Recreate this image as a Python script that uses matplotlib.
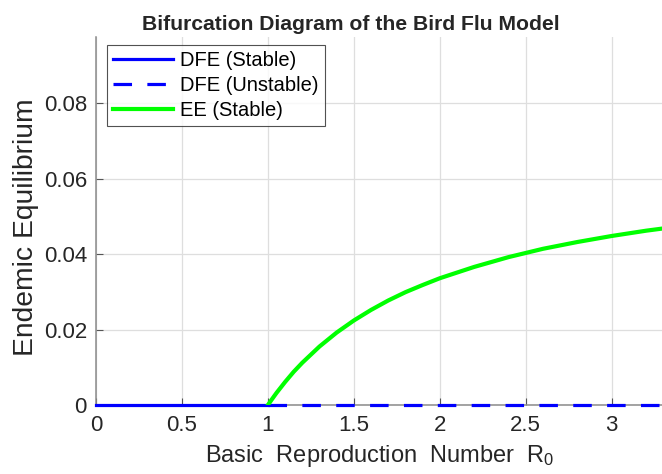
import numpy as np
import matplotlib
matplotlib.use("Agg")
import matplotlib.pyplot as plt

plt.rcParams['font.family'] = ['Liberation Sans', 'DejaVu Sans']
plt.rcParams['mathtext.fontset'] = 'custom'
plt.rcParams['mathtext.rm'] = 'Liberation Sans'
plt.rcParams['mathtext.it'] = 'Liberation Sans:italic'

# values
r0_dfe_stable = [0.0, 1.0]
dfe_stable = [0.0, 0.0]
r0_dfe_unstable = [1.0, 3.3]
dfe_unstable = [0.0, 0.0]
r0_ee = [1.0, 1.02, 1.05, 1.1, 1.15, 1.2, 1.3, 1.4, 1.5, 1.6, 1.7, 1.8, 1.9, 2.0,
         2.2, 2.4, 2.6, 2.8, 3.0, 3.2, 3.3]
ee = [0.0, 0.0013, 0.0032, 0.0061, 0.0088, 0.0112, 0.0155, 0.0192, 0.0224,
      0.0252, 0.0277, 0.0299, 0.0318, 0.0336, 0.0366, 0.0392, 0.0414, 0.0432,
      0.0448, 0.0462, 0.0468]

fig = plt.figure(figsize=(6.62, 4.74), dpi=100)
ax = fig.add_axes([0.145, 0.1456, 0.857, 0.776])

ax.plot(r0_dfe_stable, dfe_stable, color='#0000ff', lw=2.3, label='DFE (Stable)',
        zorder=3, clip_on=False)
ax.plot(r0_dfe_unstable, dfe_unstable, color='#0000ff', lw=2.3, ls=(0, (5.8, 4.8)),
        label='DFE (Unstable)', zorder=3, clip_on=False)
ax.plot(r0_ee, ee, color='#00ff00', lw=3.0, label='EE (Stable)', zorder=4)

ax.set_xlim(0, 3.3)
ax.set_ylim(0, 0.0975)
ax.set_xticks([0, 0.5, 1, 1.5, 2, 2.5, 3])
ax.set_xticklabels(['0', '0.5', '1', '1.5', '2', '2.5', '3'])
ax.set_yticks([0, 0.02, 0.04, 0.06, 0.08])
ax.set_yticklabels(['0', '0.02', '0.04', '0.06', '0.08'])
ax.grid(True, color='#dedede', lw=0.9)
ax.set_axisbelow(True)
for s in ['top', 'right']:
    ax.spines[s].set_visible(False)
for s in ['left', 'bottom']:
    ax.spines[s].set_color('#8a8a8a')
    ax.spines[s].set_linewidth(1.1)
ax.tick_params(direction='in', colors='#555555', labelcolor='#262626',
               labelsize=16, length=5)
ax.tick_params(axis='x', pad=7)
ax.tick_params(axis='y', pad=6.5)

ax.set_title('Bifurcation Diagram of the Bird Flu Model', fontsize=15.2,
             fontweight='bold', color='#262626', pad=5, x=0.449)
ax.set_xlabel('Basic  Reproduction  Number  R$_0$', fontsize=17,
              color='#262626', labelpad=5)
ax.set_ylabel('Endemic Equilibrium', fontsize=20.3, color='#262626')
ax.yaxis.set_label_coords(-0.1, 0.483)

leg = ax.legend(loc='upper left', fontsize=14.5, frameon=True, fancybox=False,
                edgecolor='#262626', handlelength=3.0, borderpad=0.3,
                labelspacing=0.3, handletextpad=0.35, borderaxespad=0,
                bbox_to_anchor=(0.019, 0.978))
leg.get_frame().set_linewidth(0.8)

fig.savefig('out.png', dpi=100)
